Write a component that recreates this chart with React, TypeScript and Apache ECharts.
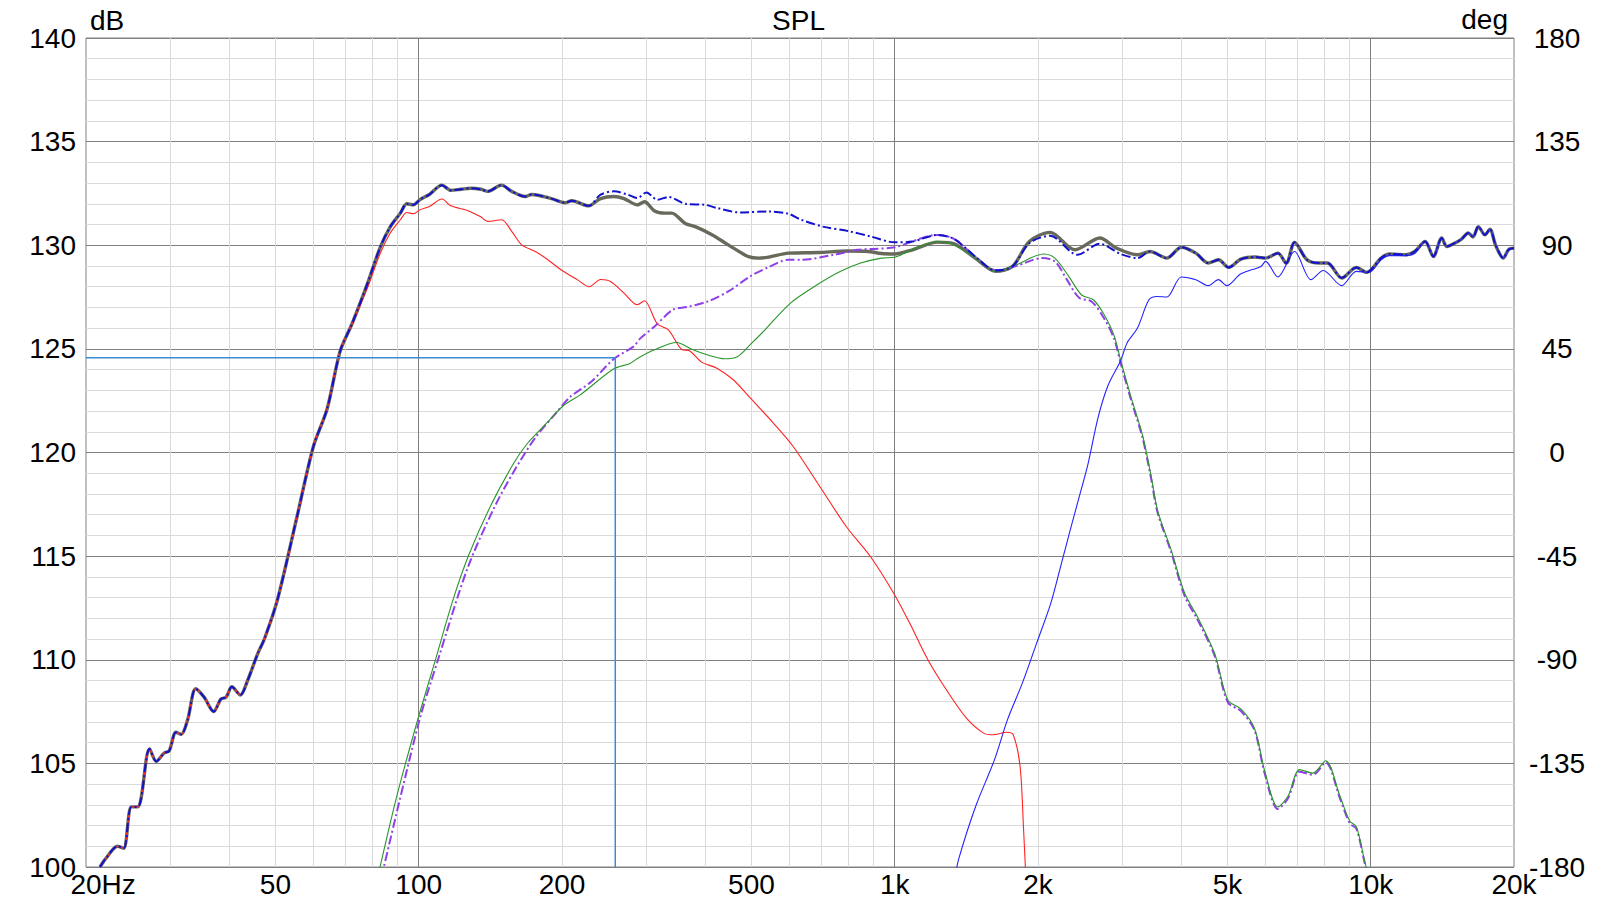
import React, { useEffect, useRef } from 'react';
import * as echarts from 'echarts';

// ---- axis / tick data ----
const xTickValues = [20, 50, 100, 200, 500, 1000, 2000, 5000, 10000, 20000];
const xTickLabels = ['20Hz', '50', '100', '200', '500', '1k', '2k', '5k', '10k', '20k'];
const majorFreqLines = [100, 1000, 10000];
const minorFreqLines = [30, 40, 50, 60, 70, 80, 90, 200, 300, 400, 500, 600, 700, 800, 900,
  2000, 3000, 4000, 5000, 6000, 7000, 8000, 9000];
const dbMin = 100;
const dbMax = 140;
const degMin = -180;
const degMax = 180;

// ---- cursor ----
const cursorFreq = 258.8;
const cursorLevel = 124.57;

// ---- series values [Hz, dB] ----
const lowRise: [number, number][] = [
  [21.4, 100.0], [22.0, 100.4], [23.3, 101.0], [24.0, 100.9], [24.9, 102.9], [25.7, 102.9],
  [26.1, 103.3], [27.2, 105.7], [28.1, 105.1], [29.2, 105.5], [29.9, 105.6], [30.9, 106.5],
  [31.7, 106.4], [32.7, 107.1], [34.0, 108.6], [35.4, 108.2], [37.1, 107.5], [38.4, 108.1],
  [39.4, 108.2], [40.5, 108.7], [42.2, 108.3], [43.7, 109.0], [45.9, 110.3], [47.4, 111.0],
  [50.5, 112.9], [55.5, 116.9], [60.1, 120.3], [64.2, 122.1], [68.4, 124.9], [72.4, 126.2],
];

const totalSpl: [number, number][] = [
  ...lowRise,
  [77.9, 128.1], [83.0, 129.9], [87.2, 130.9], [91.5, 131.55], [94.4, 132.0], [97.5, 131.95],
  [100.6, 132.2], [105.3, 132.45], [111.9, 132.9], [116.8, 132.65], [122.6, 132.7], [128.7, 132.75],
  [135.1, 132.7], [139.6, 132.6], [149.3, 132.9], [156.8, 132.6], [167.3, 132.35], [172.8, 132.45],
  [190.1, 132.25], [202.9, 132.05], [209.7, 132.15], [227.5, 131.9], [241, 132.25], [257, 132.35],
  [270, 132.25], [288, 131.95], [298, 132.1], [313, 131.65], [329, 131.55], [340, 131.55],
  [363, 131.05], [381, 130.9], [414, 130.5], [441, 130.1], [463, 129.8], [493, 129.45],
  [518, 129.38], [544, 129.43], [598, 129.62], [691, 129.65], [798, 129.72], [879, 129.7],
  [938, 129.6], [1000, 129.58], [1090, 129.78], [1230, 130.15], [1334, 130.07], [1476, 129.38],
  [1631, 128.74], [1768, 128.98], [1918, 130.18], [2120, 130.62], [2393, 129.78], [2698, 130.35],
  [2923, 129.86], [3237, 129.54], [3440, 129.7], [3729, 129.38], [4002, 129.9], [4292, 129.62],
  [4555, 129.14], [4788, 129.3], [5030, 128.93], [5337, 129.33], [5722, 129.43], [6013, 129.38],
  [6382, 129.62], [6644, 129.14], [6920, 130.14], [7346, 129.3], [7796, 129.14], [8111, 129.14],
  [8693, 128.42], [9326, 128.93], [9803, 128.69], [10516, 129.38], [10955, 129.58], [11880, 129.54],
  [12370, 129.7], [13010, 130.18], [13540, 129.46], [14100, 130.35], [14450, 129.94], [15000, 130.1],
  [15520, 130.3], [16030, 130.59], [16400, 130.4], [16830, 130.9], [17380, 130.5], [17800, 130.78],
  [18300, 130.0], [18990, 129.38], [19500, 129.8], [20000, 129.86],
];

const totalAlt: [number, number][] = [
  ...lowRise,
  [77.9, 128.1], [83.0, 129.9], [87.2, 130.9], [91.5, 131.55], [94.4, 132.0], [97.5, 131.95],
  [100.6, 132.2], [105.3, 132.45], [111.9, 132.9], [116.8, 132.65], [122.6, 132.7], [128.7, 132.75],
  [135.1, 132.7], [139.6, 132.6], [149.3, 132.9], [156.8, 132.6], [167.3, 132.35], [172.8, 132.45],
  [190.1, 132.25], [202.9, 132.05], [209.7, 132.15], [227.5, 131.9], [241, 132.44], [257, 132.6],
  [275, 132.44], [288, 132.28], [301, 132.55], [317, 132.2], [335, 132.33], [363, 132.0],
  [400, 131.95], [423, 131.8], [473, 131.58], [544, 131.63], [598, 131.52], [636, 131.23],
  [707, 130.9], [803, 130.67], [892, 130.42], [1000, 130.14], [1090, 130.18], [1230, 130.5],
  [1334, 130.3], [1476, 129.46], [1631, 128.78], [1768, 128.98], [1918, 130.1], [2120, 130.46],
  [2420, 129.54], [2698, 130.07], [2980, 129.58], [3237, 129.38], [3440, 129.7], [3729, 129.38],
  [4002, 129.9], [4292, 129.62], [4555, 129.14], [4788, 129.3], [5030, 128.93], [5337, 129.33],
  [5722, 129.43], [6013, 129.38], [6382, 129.62], [6644, 129.14], [6920, 130.14], [7346, 129.3],
  [7796, 129.14], [8111, 129.14], [8693, 128.42], [9326, 128.93], [9803, 128.69], [10516, 129.38],
  [10955, 129.58], [11880, 129.54], [12370, 129.7], [13010, 130.18], [13540, 129.46], [14100, 130.35],
  [14450, 129.94], [15000, 130.1], [15520, 130.3], [16030, 130.59], [16400, 130.4], [16830, 130.9],
  [17380, 130.5], [17800, 130.78], [18300, 130.0], [18990, 129.38], [19500, 129.8], [20000, 129.86],
];

const wooferSpl: [number, number][] = [
  ...lowRise,
  [77.9, 127.9], [83.0, 129.6], [87.2, 130.6], [91.5, 131.23], [94.4, 131.58], [97.5, 131.52],
  [100.6, 131.71], [105.3, 131.87], [111.9, 132.23], [116.8, 131.9], [126.5, 131.68], [135, 131.37],
  [139.6, 131.15], [149.3, 131.23], [156.8, 130.67], [164.6, 130.02], [175.8, 129.7], [186.8, 129.3],
  [198.9, 128.82], [215.7, 128.33], [228.2, 128.0], [241, 128.35], [253, 128.25], [270, 127.69],
  [288, 127.13], [298, 127.32], [317, 126.21], [334.7, 125.92], [357.6, 124.96], [369.5, 124.92],
  [393, 124.36], [423, 124.07], [458, 123.51], [497, 122.63], [556, 121.42], [612, 120.29],
  [696, 118.36], [791, 116.43], [889, 114.98], [995, 113.21], [1075, 111.77], [1174, 110.0],
  [1284, 108.55], [1415, 107.18], [1537, 106.46], [1611, 106.38], [1718, 106.5], [1774, 106.38],
  [1834, 104.85], [1864, 101.95], [1890, 99.0],
];

const midSpl: [number, number][] = [
  [82, 99.5], [90.0, 103.44], [99.1, 106.96], [108.3, 109.96], [118.3, 112.96], [127.2, 115.02],
  [141.4, 117.4], [158.2, 119.47], [168.8, 120.41], [186, 121.44], [201.5, 122.27], [218.4, 122.78],
  [256.6, 124.03], [278, 124.3], [291, 124.6], [313, 124.96], [348, 125.31], [375, 124.98],
  [405, 124.7], [439, 124.52], [467, 124.62], [497, 125.2], [534, 125.92], [604, 127.21],
  [687, 128.09], [768, 128.73], [848, 129.14], [938, 129.38], [1000, 129.42], [1090, 129.8],
  [1230, 130.18], [1334, 130.0], [1476, 129.4], [1631, 128.74], [1800, 129.06], [2056, 129.58],
  [2170, 129.38], [2320, 128.5], [2470, 127.6], [2614, 127.37], [2749, 126.68], [2889, 125.65],
  [2984, 124.44], [3132, 122.72], [3317, 120.82], [3453, 118.92], [3567, 117.2], [3808, 115.3],
  [4062, 113.23], [4335, 112.03], [4700, 110.3], [5010, 108.06], [5350, 107.6], [5700, 106.68],
  [5990, 104.62], [6380, 102.9], [6700, 103.41], [7090, 104.7], [7560, 104.53], [8040, 105.13],
  [8620, 103.41], [9040, 102.21], [9330, 101.95], [9700, 100.34], [9900, 99.5],
];

const midAltSpl: [number, number][] = [
  [83.5, 99.5], [100, 106.96], [110, 110.06], [126.6, 114.41], [143.8, 117.3], [158.2, 119.06],
  [175.7, 120.71], [195.1, 121.95], [208, 122.68], [230, 123.4], [256.6, 124.5], [283, 125.12],
  [291, 125.47], [313, 126.08], [342, 126.89], [366, 127.02], [405, 127.29], [447, 127.77],
  [497, 128.5], [544, 128.95], [598, 129.3], [636, 129.3], [745, 129.54], [835, 129.78],
  [892, 129.82], [1000, 129.9], [1230, 130.5], [1334, 130.3], [1476, 129.46], [1631, 128.8],
  [1800, 129.0], [2036, 129.38], [2170, 129.22], [2300, 128.34], [2443, 127.45], [2591, 127.29],
  [2749, 126.5], [2889, 125.5], [2984, 124.3], [3132, 122.6], [3317, 120.7], [3453, 118.8],
  [3567, 117.1], [3808, 115.2], [4062, 113.1], [4335, 111.9], [4700, 110.2], [5010, 107.95],
  [5350, 107.5], [5700, 106.6], [5990, 104.5], [6380, 102.8], [6700, 103.3], [7090, 104.6],
  [7560, 104.45], [8040, 105.05], [8620, 103.3], [9040, 102.1], [9330, 101.85], [9700, 100.25],
  [9900, 99.4],
];

const tweeterSpl: [number, number][] = [
  [1340, 99.5], [1361, 100.34], [1479, 102.92], [1620, 105.17], [1725, 107.1], [1854, 108.87],
  [1987, 110.8], [2128, 112.73], [2250, 114.82], [2340, 116.3], [2426, 117.63], [2547, 119.44],
  [2674, 121.68], [2806, 123.23], [2984, 124.44], [3079, 125.3], [3234, 125.99], [3420, 127.37],
  [3550, 127.53], [3729, 127.5], [4000, 128.47], [4292, 128.34], [4555, 128.05], [4788, 128.34],
  [4980, 128.05], [5337, 128.62], [5880, 128.98], [6013, 129.22], [6382, 128.47], [6920, 129.7],
  [7490, 128.34], [7950, 128.78], [8693, 128.05], [9326, 128.74], [9912, 128.69], [10516, 129.3],
  [10955, 129.5], [11880, 129.5], [12370, 129.6], [13010, 130.18], [13540, 129.46], [14100, 130.35],
  [14450, 129.94], [15000, 130.1], [15520, 130.3], [16030, 130.59], [16400, 130.4], [16830, 130.9],
  [17380, 130.5], [17800, 130.78], [18300, 130.0], [18990, 129.38], [19500, 129.8], [20000, 129.86],
];

const FONT = 'Arial, "Liberation Sans", Helvetica, sans-serif';
const dashDot = [9, 3, 2, 3];

export default function App() {
  const ref = useRef<HTMLDivElement>(null);

  useEffect(() => {
    if (!ref.current) return;
    const chart = echarts.init(ref.current, undefined, { renderer: 'svg' });

    const gridMarkLines = [
      ...minorFreqLines.map((v) => ({ xAxis: v, lineStyle: { color: '#dadada', width: 1, type: 'solid' } })),
      ...majorFreqLines.map((v) => ({ xAxis: v, lineStyle: { color: '#808080', width: 1, type: 'solid' } })),
    ];

    const lineBase = {
      type: 'line',
      showSymbol: false,
      symbol: 'none',
      smooth: 0.3,
      clip: true,
      xAxisIndex: 0,
      yAxisIndex: 0,
      silent: true,
    };

    const option: any = {
      animation: false,
      backgroundColor: '#ffffff',
      title: {
        text: 'SPL',
        left: 'center',
        top: 1,
        textStyle: { fontSize: 28, fontWeight: 'normal', color: '#000', fontFamily: FONT },
      },
      grid: {
        left: 86,
        top: 38,
        width: 1428,
        height: 829,
        show: true,
        borderColor: '#808080',
        borderWidth: 1,
        containLabel: false,
      },
      xAxis: {
        type: 'log',
        logBase: 10,
        min: 20,
        max: 20000,
        axisLine: { show: false },
        axisTick: { show: false },
        axisLabel: { show: false },
        splitLine: { show: false },
      },
      yAxis: [
        {
          type: 'value',
          min: dbMin,
          max: dbMax,
          interval: 5,
          axisLine: { show: false },
          axisTick: { show: false },
          axisLabel: {
            fontSize: 28,
            color: '#000',
            fontFamily: FONT,
            margin: 10,
            verticalAlign: 'middle',
            padding: [0, 0, 8, 0],
          },
          splitLine: { show: true, lineStyle: { color: '#808080', width: 1 } },
          minorTick: { show: false, splitNumber: 5 },
          minorSplitLine: { show: true, lineStyle: { color: '#dadada', width: 1 } },
        },
        {
          type: 'value',
          position: 'right',
          min: degMin,
          max: degMax,
          interval: 45,
          axisLine: { show: false },
          axisTick: { show: false },
          axisLabel: {
            fontSize: 28,
            color: '#000',
            fontFamily: FONT,
            margin: 43,
            align: 'center',
            verticalAlign: 'middle',
            padding: [0, 0, 8, 0],
          },
          splitLine: { show: false },
        },
      ],
      series: [
        {
          ...lineBase,
          name: 'grid',
          data: [],
          markLine: {
            silent: true,
            symbol: 'none',
            animation: false,
            z: 1,
            label: { show: false },
            emphasis: { disabled: true },
            data: gridMarkLines,
          },
        },
        { ...lineBase, name: 'Total', data: totalSpl, lineStyle: { color: '#676a5b', width: 3.4 } },
        { ...lineBase, name: 'Woofer', data: wooferSpl, lineStyle: { color: '#ff2222', width: 1.1 } },
        { ...lineBase, name: 'Mid alt', data: midAltSpl, lineStyle: { color: '#9040e8', width: 2, type: dashDot } },
        { ...lineBase, name: 'Mid', data: midSpl, lineStyle: { color: '#2a962a', width: 1.1 } },
        { ...lineBase, name: 'Tweeter', data: tweeterSpl, lineStyle: { color: '#2424ff', width: 1.1 } },
        { ...lineBase, name: 'Total alt', data: totalAlt, lineStyle: { color: '#1212cc', width: 2, type: dashDot } },
        {
          ...lineBase,
          name: 'Cursor',
          smooth: false,
          data: [[xTickValues[0], cursorLevel], [cursorFreq, cursorLevel], [cursorFreq, dbMin]],
          lineStyle: { color: '#3a8ad6', width: 1.5 },
        },
      ],
    };

    chart.setOption(option);

    const labelY = 884;
    const graphics: any[] = xTickValues.map((v, i) => {
      const px = chart.convertToPixel({ xAxisIndex: 0 }, v) as number;
      const isFirst = i === 0;
      return {
        type: 'text',
        x: isFirst ? px - 15.6 : px,
        y: labelY,
        silent: true,
        style: {
          text: xTickLabels[i],
          fontSize: 28,
          fontFamily: FONT,
          fill: '#000',
          align: isFirst ? 'left' : 'center',
          verticalAlign: 'middle',
        },
      };
    });
    graphics.push({
      type: 'text',
      x: 90,
      y: 20,
      silent: true,
      style: { text: 'dB', fontSize: 28, fontFamily: FONT, fill: '#000', align: 'left', verticalAlign: 'middle' },
    });
    graphics.push({
      type: 'text',
      x: 1508,
      y: 19,
      silent: true,
      style: { text: 'deg', fontSize: 28, fontFamily: FONT, fill: '#000', align: 'right', verticalAlign: 'middle' },
    });
    chart.setOption({ graphic: graphics });

    return () => {
      chart.dispose();
    };
  }, []);

  return (
    <div
      ref={ref}
      style={{ position: 'fixed', left: 0, top: 0, width: '1597px', height: '900px', background: '#fff' }}
    />
  );
}
